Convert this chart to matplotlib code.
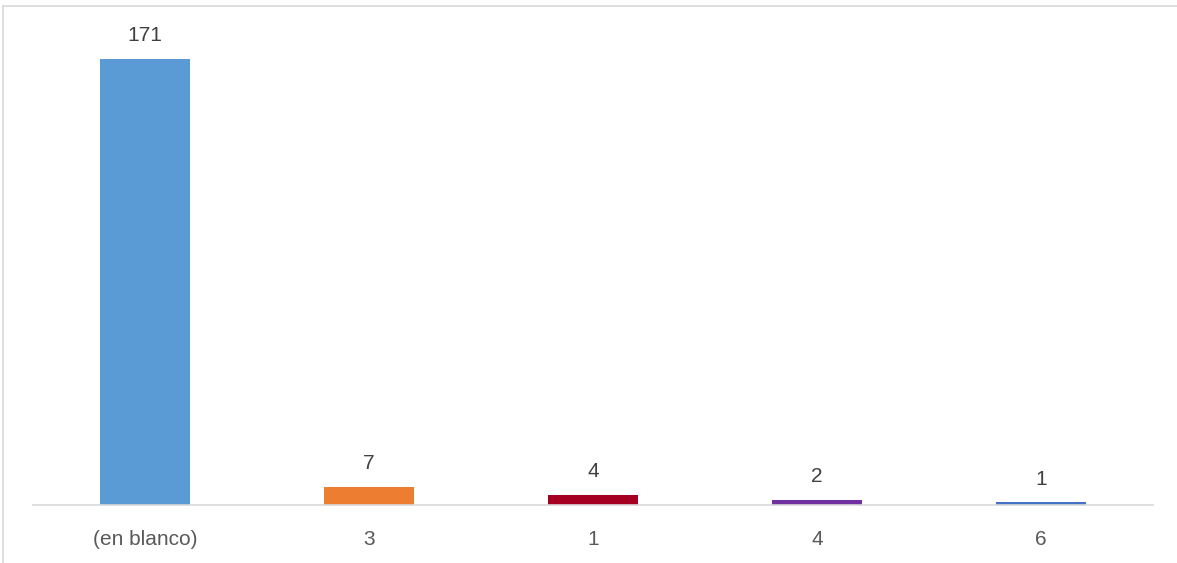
import matplotlib
matplotlib.use("Agg")
import matplotlib.pyplot as plt
from matplotlib.lines import Line2D

categories = ["(en blanco)", "3", "1", "4", "6"]
counts = [171, 7, 4, 2, 1]
bar_colors = ["#5b9bd5", "#ed7d31", "#a50021", "#7030a0", "#4472c4"]

plt.rcParams["font.family"] = ["Liberation Sans", "DejaVu Sans"]

fig = plt.figure(figsize=(11.77, 5.63), dpi=100)
ax = fig.add_axes([33 / 1177, 1 - 505 / 563, (1153 - 33) / 1177, 469.5 / 563])

x = range(len(categories))
bars = ax.bar(x, counts, width=0.4, color=bar_colors, zorder=2)

for rect, val in zip(bars, counts):
    ax.annotate(str(val), (rect.get_x() + rect.get_width() / 2, rect.get_height()),
                xytext=(0, 10), textcoords="offset points",
                ha="center", va="bottom", fontsize=15, color="#404040")

ax.set_xlim(-0.5, len(categories) - 0.5)
ax.set_ylim(0, 180)
ax.set_xticks(list(x))
ax.set_xticklabels(categories, fontsize=15, color="#595959")
ax.tick_params(axis="x", length=0, pad=18)
ax.set_yticks([])

for side in ["top", "right", "left"]:
    ax.spines[side].set_visible(False)
ax.spines["bottom"].set_color("#d9d9d9")
ax.spines["bottom"].set_linewidth(1.2)
ax.spines["bottom"].set_zorder(3)

# chart area border (only top and left visible in the crop)
fig.add_artist(Line2D([3 / 1177, 3 / 1177], [0, 1 - 6 / 563], color="#d9d9d9", lw=1.2))
fig.add_artist(Line2D([3 / 1177, 1], [1 - 6 / 563, 1 - 6 / 563], color="#d9d9d9", lw=1.2))

fig.savefig("out.png", dpi=100)
